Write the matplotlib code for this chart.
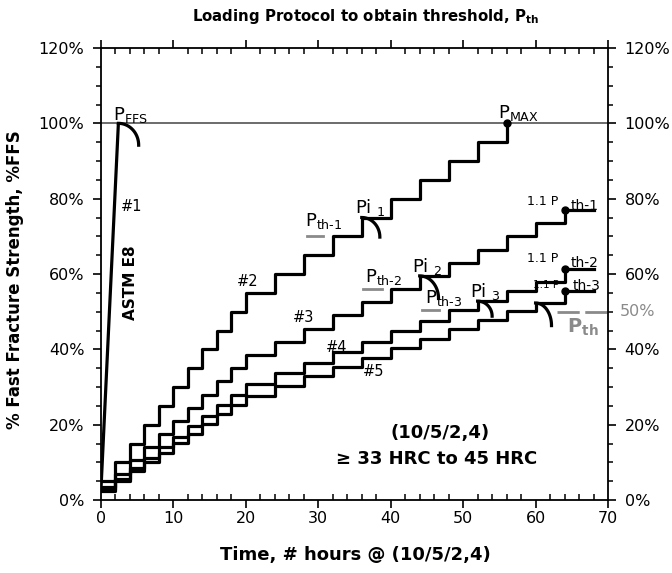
import numpy as np
import matplotlib
matplotlib.use('Agg')
import matplotlib.pyplot as plt
from matplotlib.transforms import blended_transform_factory

plt.rcParams['font.family'] = ['DejaVu Sans']
plt.rcParams['mathtext.default'] = 'regular'
plt.rcParams['lines.scale_dashes'] = False

# ---------------- data ----------------
e8_t = [0, 2.4]
e8_v = [3, 100]

t_short = [0, 2, 4, 6, 8, 10, 12, 14, 16, 18, 20, 24, 28, 32, 36, 40, 44, 48, 52, 56]
v2 = [5, 10, 15, 20, 25, 30, 35, 40, 45, 50, 55, 60, 65, 70, 75, 80, 85, 90, 95, 100]

t_long = [0, 2, 4, 6, 8, 10, 12, 14, 16, 18, 20, 24, 28, 32, 36, 40, 44, 48, 52, 56, 60, 64]
v3 = [3.5, 7, 10.5, 14, 17.5, 21, 24.5, 28, 31.5, 35, 38.5, 42, 45.5, 49, 52.5, 56, 59.5, 63, 66.5, 70, 73.5, 77]
v4 = [2.8, 5.6, 8.4, 11.2, 14, 16.8, 19.6, 22.4, 25.2, 28, 30.8, 33.6, 36.4, 39.2, 42, 44.8, 47.6, 50.4, 52.8, 55.6, 57.8, 61.3]
v5 = [2.5, 5, 7.6, 10.1, 12.6, 15.1, 17.6, 20.2, 22.7, 25.2, 27.7, 30.2, 32.8, 35.3, 37.8, 40.3, 42.8, 45.4, 47.9, 50.2, 52.3, 55.4]
t_end = 68
p_th_final = 50

# index of the fracture step (Pi) for each curve
pi_idx = {'2': 14, '3': 16, '4': 18, '5': 20}

x_ticks = [0, 10, 20, 30, 40, 50, 60, 70]
y_ticks = [0, 20, 40, 60, 80, 100, 120]
y_labels = ['0%', '20%', '40%', '60%', '80%', '100%', '120%']

# ---------------- figure ----------------
fig = plt.figure(figsize=(6.72, 5.73), dpi=100)
ax = fig.add_axes([101 / 672, 73 / 573, 507 / 672, 452 / 573])
ax.set_xlim(0, 70)
ax.set_ylim(0, 120)

LW = 2.3
GRAY = '#8a8a8a'

ax.axhline(100, color='#444444', lw=1.1, zorder=1)

# ASTM E8
ax.plot(e8_t, e8_v, color='black', lw=LW, solid_capstyle='butt', zorder=3)

# step curves
ax.step(t_short, v2, where='post', color='black', lw=LW, zorder=3)
for v in (v3, v4, v5):
    ax.step(t_long + [t_end], v + [v[-1]], where='post', color='black', lw=LW, zorder=3)

# dots
ax.plot([t_short[-1]], [v2[-1]], 'o', color='black', ms=5, zorder=4)
for v in (v3, v4, v5):
    ax.plot([t_long[-1]], [v[-1]], 'o', color='black', ms=5, zorder=4)


def arc(x0, y0, dx, dy):
    t = np.linspace(0, np.pi / 2, 40)
    ax.plot(x0 + dx * np.sin(t), y0 - dy * (1 - np.cos(t)), color='black', lw=LW, zorder=4)


arc(e8_t[-1], e8_v[-1], 2.8, 5.8)
arc(t_short[pi_idx['2']], v2[pi_idx['2']], 2.5, 5.2)
arc(t_long[pi_idx['3']], v3[pi_idx['3']], 2.6, 6.0)
arc(t_long[pi_idx['4']], v4[pi_idx['4']], 2.0, 4.0)
arc(t_long[pi_idx['5']], v5[pi_idx['5']], 2.2, 6.0)

# threshold marks (gray)
ax.plot([28.4, 30.7], [v2[pi_idx['2'] - 1]] * 2, color=GRAY, lw=2, zorder=2)
ax.plot([36.2, 38.8], [v3[pi_idx['3'] - 1]] * 2, color=GRAY, lw=2, zorder=2)
ax.plot([44.3, 46.6], [v4[pi_idx['4'] - 1]] * 2, color=GRAY, lw=2, zorder=2)
ax.plot([63.0, 70.0], [p_th_final] * 2, color=GRAY, lw=2, dashes=(16, 4), zorder=2)

# ---------------- ticks / spines ----------------
for s in ax.spines.values():
    s.set_linewidth(1.3)
ax.set_xticks(x_ticks)
ax.set_xticks(np.arange(0, 71, 2), minor=True)
ax.set_yticks(y_ticks)
ax.set_yticks(np.arange(0, 121, 5), minor=True)
ax.set_yticklabels(y_labels)
ax.tick_params(axis='x', which='major', direction='out', length=6, width=1.2, top=True, bottom=True,
               labelsize=11.5, pad=2)
ax.tick_params(axis='x', which='minor', direction='in', length=4, width=1.1, top=True, bottom=True)
ax.tick_params(axis='y', which='major', direction='out', length=6, width=1.2, left=True, right=True,
               labelleft=True, labelright=True, labelsize=11.5, pad=6)
ax.tick_params(axis='y', which='minor', direction='out', length=3.5, width=1.1, left=True, right=True)

trans = blended_transform_factory(ax.transAxes, ax.transData)
ax.text(1.024, p_th_final, '50%', transform=trans, color=GRAY, fontsize=11.5, va='center', ha='left')

# ---------------- texts ----------------
fig.text(366 / 672, 1 - 16 / 573, 'Loading Protocol to obtain threshold, P$_{th}$', ha='center', va='center',
         fontsize=10.8, fontweight='bold')
fig.text(355 / 672, 1 - 555 / 573, 'Time, # hours @ (10/5/2,4)', ha='center', va='center',
         fontsize=13, fontweight='bold')
fig.text(15 / 672, 1 - 280 / 573, '% Fast Fracture Strength, %FFS', ha='center', va='center',
         fontsize=12, fontweight='bold', rotation=90)

big = 13
ax.text(1.6, 101, 'P$_{FFS}$', fontsize=big, ha='left', va='baseline')
ax.text(4.2, 78, '#1', fontsize=10.5, ha='center', va='center')
ax.text(4.1, 57.6, 'ASTM E8', fontsize=11, fontweight='bold', rotation=90, ha='center', va='center')
ax.text(20.3, 58, '#2', fontsize=10.5, ha='center', va='center')
ax.text(27.9, 48.4, '#3', fontsize=10.5, ha='center', va='center')
ax.text(32.5, 40.6, '#4', fontsize=10.5, ha='center', va='center')
ax.text(37.7, 34, '#5', fontsize=10.5, ha='center', va='center')

ax.text(28.2, 72.7, 'P$_{th\u20101}$', fontsize=big, ha='left', va='baseline')
ax.text(35.1, 76.2, 'Pi $_{1}$', fontsize=big, ha='left', va='baseline')
ax.text(54.8, 101.4, 'P$_{MAX}$', fontsize=big, ha='left', va='baseline')
ax.text(36.4, 58, 'P$_{th\u20102}$', fontsize=big, ha='left', va='baseline')
ax.text(43.0, 60.5, 'Pi $_{2}$', fontsize=big, ha='left', va='baseline')
ax.text(44.7, 52.3, 'P$_{th\u20103}$', fontsize=big, ha='left', va='baseline')
ax.text(51.0, 54.0, 'Pi $_{3}$', fontsize=big, ha='left', va='baseline')

ax.text(58.8, 78.3, '1.1 P', fontsize=9, ha='left', va='baseline')
ax.text(64.8, 77.0, 'th\u20101', fontsize=10, ha='left', va='baseline')
ax.text(58.8, 63.2, '1.1 P', fontsize=9, ha='left', va='baseline')
ax.text(64.8, 61.9, 'th\u20102', fontsize=10, ha='left', va='baseline')
ax.text(59.6, 56.3, '1.1 P', fontsize=7.5, ha='left', va='baseline')
ax.text(65.1, 55.7, 'th\u20103', fontsize=10, ha='left', va='baseline')

ax.text(64.3, 44.3, r'P$_{\mathbf{th}}$', fontsize=14, fontweight='bold', color=GRAY, ha='left', va='baseline')

ax.text(46.8, 17.8, '(10/5/2,4)', fontsize=13, fontweight='bold', ha='center', va='center')
ax.text(46.4, 10.9, '\u2265 33 HRC to 45 HRC', fontsize=13, fontweight='bold', ha='center', va='center')

fig.savefig('out.png', dpi=100)
